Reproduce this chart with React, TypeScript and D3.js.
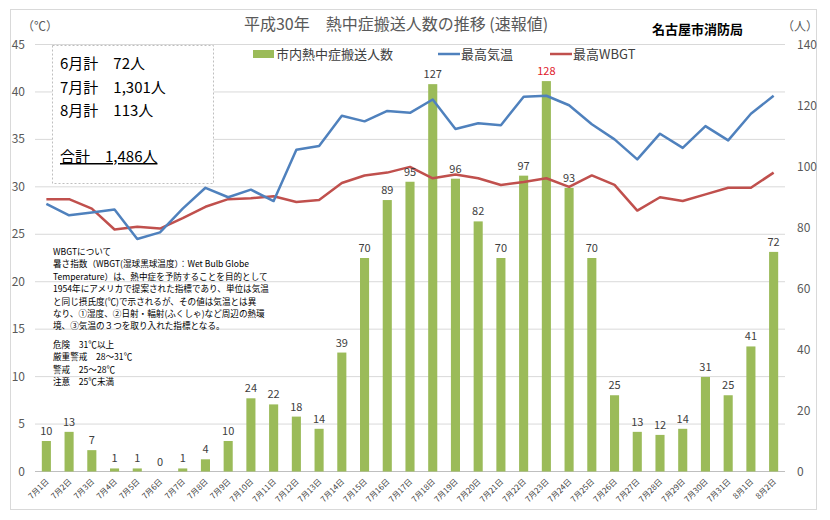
import * as d3 from "d3";

const dates = [
  "7月1日", "7月2日", "7月3日", "7月4日", "7月5日", "7月6日", "7月7日", "7月8日",
  "7月9日", "7月10日", "7月11日", "7月12日", "7月13日", "7月14日", "7月15日", "7月16日",
  "7月17日", "7月18日", "7月19日", "7月20日", "7月21日", "7月22日", "7月23日", "7月24日",
  "7月25日", "7月26日", "7月27日", "7月28日", "7月29日", "7月30日", "7月31日", "8月1日", "8月2日",
];
const patients = [
  10, 13, 7, 1, 1, 0, 1, 4, 10, 24, 22, 18, 14, 39, 70, 89, 95, 127, 96, 82, 70, 97, 128, 93,
  70, 25, 13, 12, 14, 31, 25, 41, 72,
];
const maxTemp = [
  28.2, 27.0, 27.3, 27.6, 24.5, 25.2, 27.7, 29.9, 28.9, 29.7, 28.5, 33.9, 34.3, 37.5, 36.9, 38.0,
  37.8, 39.2, 36.1, 36.7, 36.5, 39.5, 39.6, 38.6, 36.6, 35.0, 32.9, 35.6, 34.1, 36.4, 34.9, 37.7, 39.6,
];
const maxWbgt = [
  28.7, 28.7, 27.7, 25.5, 25.8, 25.6, 26.7, 27.9, 28.7, 28.8, 29.0, 28.4, 28.6, 30.4, 31.2, 31.5,
  32.1, 30.9, 31.3, 30.9, 30.2, 30.5, 30.9, 30.0, 31.2, 30.2, 27.5, 28.9, 28.5, 29.2, 29.9, 29.9, 31.5,
];
const tempTicks = [0, 5, 10, 15, 20, 25, 30, 35, 40, 45];
const countTicks = [0, 20, 40, 60, 80, 100, 120, 140];
const monthTotals = ["6月計　72人", "7月計　1,301人", "8月計　113人"];
const grandTotal = "合計　1,486人";
const noteLines = [
  "WBGTについて",
  "暑さ指数（WBGT(湿球黒球温度）：Wet Bulb Globe",
  "Temperature）は、熱中症を予防することを目的として",
  "1954年にアメリカで提案された指標であり、単位は気温",
  "と同じ摂氏度(℃)で示されるが、その値は気温とは異",
  "なり、①湿度、②日射・輻射(ふくしゃ)など周辺の熱環",
  "境、③気温の３つを取り入れた指標となる。",
];
const levelLines = ["危険　31℃以上", "厳重警戒　28～31℃", "警戒　25～28℃", "注意　25℃未満"];

const W = 830;
const H = 520;
const left = 35;
const right = 785;
const top = 44.5;
const bottom = 471.5;
const font = "'Noto Sans CJK JP', 'Noto Sans', sans-serif";

const GREEN = "#9bbb59";
const BLUE = "#4f81bd";
const RED = "#c0504d";
const TXT = "#404040";

export default function App() {
  const x = d3.scaleBand().domain(dates).range([left, right]).paddingInner(0.6).paddingOuter(0.3);
  const cx = (d: string) => x(d)! + x.bandwidth() / 2;
  const yT = d3.scaleLinear().domain([0, 45]).range([bottom, top]);
  const yN = d3.scaleLinear().domain([0, 140]).range([bottom, top]);

  const tempLine = d3
    .line<number>()
    .x((_, i) => cx(dates[i]))
    .y((d) => yT(d));

  return (
    <div style={{ position: "absolute", left: 0, top: 0 }}>
      <svg width={W} height={H} style={{ fontFamily: font, display: "block" }}>
        <rect x={0} y={0} width={W} height={H} fill="#fff" />
        <rect x={10.5} y={9.5} width={806} height={500} fill="none" stroke="#d9d9d9" />

        {/* gridlines */}
        {tempTicks.map((t) => (
          <line key={t} x1={left} x2={right} y1={yT(t)} y2={yT(t)} stroke={t === 0 ? "#bfbfbf" : "#d9d9d9"} />
        ))}

        {/* left axis */}
        {tempTicks.map((t) => (
          <text key={t} x={25} y={yT(t) + 4} textAnchor="end" fontSize={12} fill="#595959">
            {t}
          </text>
        ))}
        {/* right axis */}
        {countTicks.map((t) => (
          <text key={t} x={797} y={yN(t) + 4} fontSize={12} fill="#595959">
            {t}
          </text>
        ))}
        <text x={22} y={31} fontSize={12} fill="#595959">（℃）</text>
        <text x={782} y={31} fontSize={12} fill="#595959">（人）</text>

        {/* bars */}
        {patients.map((v, i) => (
          <rect key={i} x={x(dates[i])} y={yN(v)} width={x.bandwidth()} height={bottom - yN(v)} fill={GREEN} />
        ))}

        {/* lines */}
        <path d={tempLine(maxWbgt)!} fill="none" stroke={RED} strokeWidth={2.5} strokeLinejoin="round" />
        <path d={tempLine(maxTemp)!} fill="none" stroke={BLUE} strokeWidth={2.5} strokeLinejoin="round" />

        {/* bar labels */}
        {patients.map((v, i) => (
          <text
            key={i}
            x={cx(dates[i])}
            y={yN(v) - 6}
            textAnchor="middle"
            fontSize={11}
            fill={v === d3.max(patients) ? "#e0202a" : TXT}
          >
            {v}
          </text>
        ))}

        {/* x labels */}
        {dates.map((d) => (
          <text
            key={d}
            transform={`translate(${cx(d) + 3},${482}) rotate(-45)`}
            textAnchor="end"
            fontSize={8}
            fill={TXT}
          >
            {d}
          </text>
        ))}

        {/* title */}
        <text x={396} y={30} textAnchor="middle" fontSize={16} fill="#595959">
          平成30年　熱中症搬送人数の推移 (速報値)
        </text>
        <text x={652} y={34} fontSize={13} fontWeight="bold" fill="#000">
          名古屋市消防局
        </text>

        {/* legend */}
        <rect x={253} y={50} width={21} height={8} fill={GREEN} />
        <text x={276} y={59} fontSize={13} fill={TXT}>市内熱中症搬送人数</text>
        <line x1={438} x2={460} y1={54} y2={54} stroke={BLUE} strokeWidth={2.5} />
        <text x={461} y={59} fontSize={13} fill={TXT}>最高気温</text>
        <line x1={550} x2={572} y1={54} y2={54} stroke={RED} strokeWidth={2.5} />
        <text x={573} y={59} fontSize={13} fill={TXT}>最高WBGT</text>

        {/* totals box */}
        <rect x={52.5} y={45.5} width={161} height={138} fill="#fff" stroke="#bfbfbf" strokeDasharray="2,2" />
        {monthTotals.map((t, i) => (
          <text key={t} x={60} y={69 + i * 23.5} fontSize={15} fill="#000">
            {t}
          </text>
        ))}
        <text x={60} y={162} fontSize={15} fill="#000" textDecoration="underline">
          {grandTotal}
        </text>

        {/* note */}
        {noteLines.map((t, i) => (
          <text key={i} x={53} y={255} fontSize={8.6} fill="#000" dy={i * 12.4}>
            {t}
          </text>
        ))}
        {levelLines.map((t, i) => (
          <text key={i} x={53} y={348} fontSize={8.6} fill="#000" dy={i * 12.4}>
            {t}
          </text>
        ))}
      </svg>
    </div>
  );
}
